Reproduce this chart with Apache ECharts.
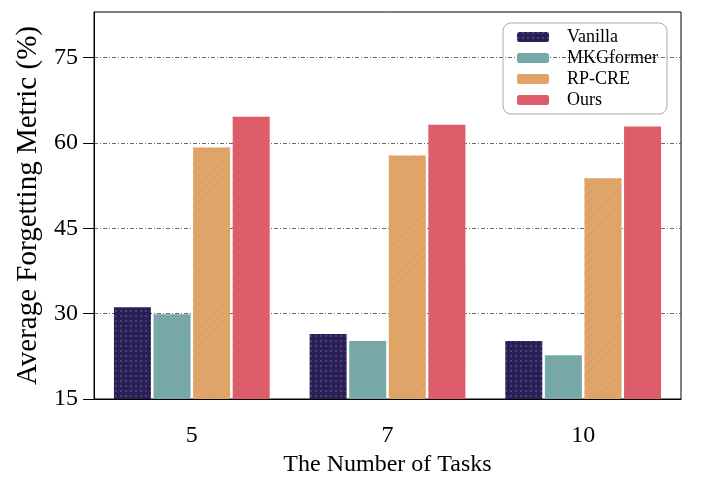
<!DOCTYPE html>
<html>
<head>
<meta charset="utf-8">
<script src="https://cdn.jsdelivr.net/npm/echarts@6/dist/echarts.min.js"></script>
<style>html,body{margin:0;padding:0;background:#fff}#c{width:708px;height:486px}</style>
</head>
<body>
<div id="c"></div>
<script>
const categories = ['5', '7', '10'];
const vanilla = [31.1, 26.4, 25.2];
const mkgformer = [29.9, 25.2, 22.7];
const rpcre = [59.2, 57.8, 53.8];
const ours = [64.6, 63.2, 62.9];
const yTicks = [15, 30, 45, 60, 75];

const font = 'Liberation Serif';
const chart = echarts.init(document.getElementById('c'), null, {renderer: 'canvas'});

function bar(name, data, color, decal) {
  return {
    name: name, type: 'bar', data: data,
    barWidth: 37, barGap: '7%',
    itemStyle: {color: color, decal: decal}
  };
}

chart.setOption({
  animation: false,
  backgroundColor: '#fff',
  grid: {left: 94, right: 27, top: 12, bottom: 87, show: true, borderColor: '#000', borderWidth: 1, backgroundColor: 'transparent'},
  legend: {
    orient: 'vertical', right: 41, top: 23,
    itemWidth: 32, itemHeight: 10, itemGap: 3,
    padding: [5, 9, 5, 14],
    borderColor: '#aaa', borderWidth: 1, borderRadius: 8,
    textStyle: {fontFamily: font, fontSize: 18, color: '#000', padding: [0, 0, 0, 13]},
    data: ['Vanilla', 'MKGformer', 'RP-CRE', 'Ours']
  },
  xAxis: {
    type: 'category', data: categories,
    name: 'The Number of Tasks', nameLocation: 'middle', nameGap: 52,
    nameTextStyle: {fontFamily: font, fontSize: 24, color: '#000'},
    axisLine: {lineStyle: {color: '#000', width: 1}},
    axisTick: {alignWithLabel: true, length: 10, lineStyle: {color: '#000'}},
    axisLabel: {fontFamily: font, fontSize: 24, color: '#000', margin: 25},
    splitLine: {show: false}
  },
  yAxis: {
    type: 'value', min: 15, max: 83, interval: 15,
    name: 'Average Forgetting Metric (%)', nameLocation: 'middle', nameGap: 42,
    nameTextStyle: {fontFamily: font, fontSize: 29, color: '#000'},
    axisLine: {show: true, lineStyle: {color: '#000', width: 1}},
    axisTick: {show: true, length: 11, lineStyle: {color: '#000'}, customValues: yTicks},
    axisLabel: {fontFamily: font, fontSize: 24, color: '#000', margin: 16, customValues: yTicks},
    splitLine: {show: true, lineStyle: {color: '#444', width: 0.8, type: [4, 2, 1, 2]}}
  },
  series: [
    bar('Vanilla', vanilla, '#2a1f55', {symbol: 'circle', symbolSize: 0.8, color: 'rgba(190,170,240,0.55)', dashArrayX: [2, 3], dashArrayY: [2, 3]}),
    bar('MKGformer', mkgformer, '#7ba6a8', {symbol: 'rect', symbolSize: 1, color: 'rgba(70,200,170,0.3)', dashArrayX: [3, 4], dashArrayY: [3, 4]}),
    bar('RP-CRE', rpcre, '#dca673', {symbol: 'rect', symbolSize: 1, color: 'rgba(245,150,40,0.45)', dashArrayX: [1, 0], dashArrayY: [2, 4], rotation: -Math.PI / 4}),
    bar('Ours', ours, '#d95f6a', {symbol: 'rect', symbolSize: 1, color: 'rgba(255,70,100,0.45)', dashArrayX: [3, 3], dashArrayY: [3, 3], rotation: Math.PI / 4})
  ]
});
</script>
</body>
</html>
